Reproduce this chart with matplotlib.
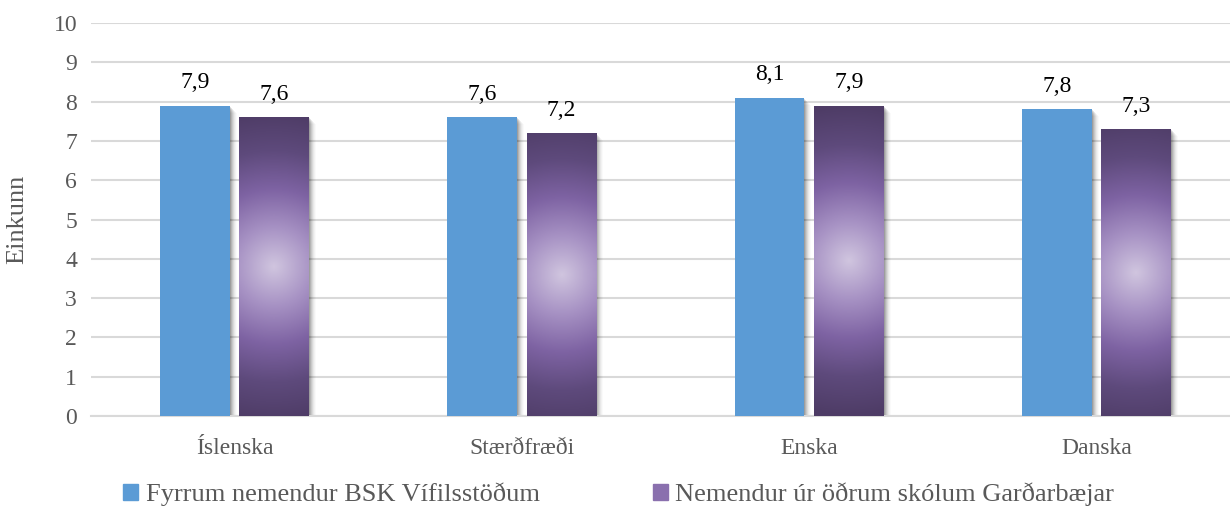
import matplotlib.pyplot as plt
import numpy as np
from matplotlib.colors import LinearSegmentedColormap
from matplotlib.patches import Patch, Rectangle

categories = ["Íslenska", "Stærðfræði", "Enska", "Danska"]
fyrrum = [7.9, 7.6, 8.1, 7.8]
adrir = [7.6, 7.2, 7.9, 7.3]
series_names = ["Fyrrum nemendur BSK Vífilsstöðum", "Nemendur úr öðrum skólum Garðarbæjar"]

plt.rcParams['font.family'] = ['Liberation Serif', 'DejaVu Serif']

fig = plt.figure(figsize=(12.3, 5.14), dpi=100)
ax_w = 1149
ax = fig.add_axes([91 / 1230, 98 / 514, ax_w / 1230, 393 / 514])

blue = '#5b9bd5'
purple_cmap = LinearSegmentedColormap.from_list(
    'purp', ['#d0c5df', '#a792c4', '#7e63a3', '#5e4a7c', '#4e3c66'])

x = np.arange(len(categories))
w = 0.243
off = 0.138
ax.set_xlim(-0.5, len(categories) - 0.5)
ax.set_ylim(0, 10)

# pixel scale for data units
px_x = ax_w / len(categories)
px_y = 393 / 10

def shadow(x0, h):
    # soft grey shadow down-right of a bar
    for k, a in zip(range(1, 8), [0.12, 0.10, 0.08, 0.06, 0.04, 0.03, 0.02]):
        ax.add_patch(Rectangle((x0 + k / px_x, -k / px_y), w, h, color='black',
                               alpha=a, lw=0, zorder=1.5))

for i in range(len(categories)):
    xb = x[i] - off - w / 2
    shadow(xb, fyrrum[i])
    ax.bar(x[i] - off, fyrrum[i], w, color=blue, zorder=3)

    xp = x[i] + off - w / 2
    h = adrir[i]
    shadow(xp, h)
    xs = np.linspace(0, 1, 60)
    ys = np.linspace(0, 1, 300)
    X, Y = np.meshgrid(xs, ys)
    dx = (X - 0.5) * w * px_x
    dy = (Y - 0.5) * h * px_y
    r = np.sqrt(dx ** 2 + dy ** 2) / 155
    im = ax.imshow(np.clip(r, 0, 1), cmap=purple_cmap, vmin=0, vmax=1,
                   extent=[xp, xp + w, 0, h], origin='lower', aspect='auto',
                   zorder=3, interpolation='bilinear')
    clip = Rectangle((xp, 0), w, h, transform=ax.transData, fc='none', ec='none')
    ax.add_patch(clip)
    im.set_clip_path(clip)

    ax.annotate(f"{fyrrum[i]:.1f}".replace('.', ','), (x[i] - off, fyrrum[i]),
                xytext=(0, 9), textcoords='offset points', ha='center', va='bottom',
                fontsize=17, color='black')
    ax.annotate(f"{adrir[i]:.1f}".replace('.', ','), (x[i] + off, adrir[i]),
                xytext=(0, 9), textcoords='offset points', ha='center', va='bottom',
                fontsize=17, color='black')

ax.set_aspect('auto')
ax.set_xlim(-0.5, len(categories) - 0.5)
ax.set_ylim(0, 10)
ax.set_yticks(range(0, 11))
ax.yaxis.grid(True, color='#d9d9d9', lw=1.5, zorder=0)
ax.set_axisbelow(True)
for s in ['top', 'right', 'left']:
    ax.spines[s].set_visible(False)
ax.spines['bottom'].set_color('#d9d9d9')
ax.spines['bottom'].set_linewidth(1.5)
ax.set_xticks(x)
ax.set_xticklabels(categories)
ax.tick_params(axis='both', length=0, labelsize=17, colors='#595959', pad=10)
ax.tick_params(axis='x', pad=16)
ax.set_ylabel("Einkunn", fontsize=19, color='#595959', labelpad=18)

handles = [Patch(color=blue, label=series_names[0]),
           Patch(color='#8a70ae', label=series_names[1])]
leg = fig.legend(handles=handles, loc='center', bbox_to_anchor=(0.503, 0.038), ncol=2,
                 frameon=False, fontsize=19, handlelength=0.55, handleheight=0.55,
                 handletextpad=0.3, columnspacing=4.3)
for t in leg.get_texts():
    t.set_color('#595959')

fig.savefig('out.png', dpi=100)
